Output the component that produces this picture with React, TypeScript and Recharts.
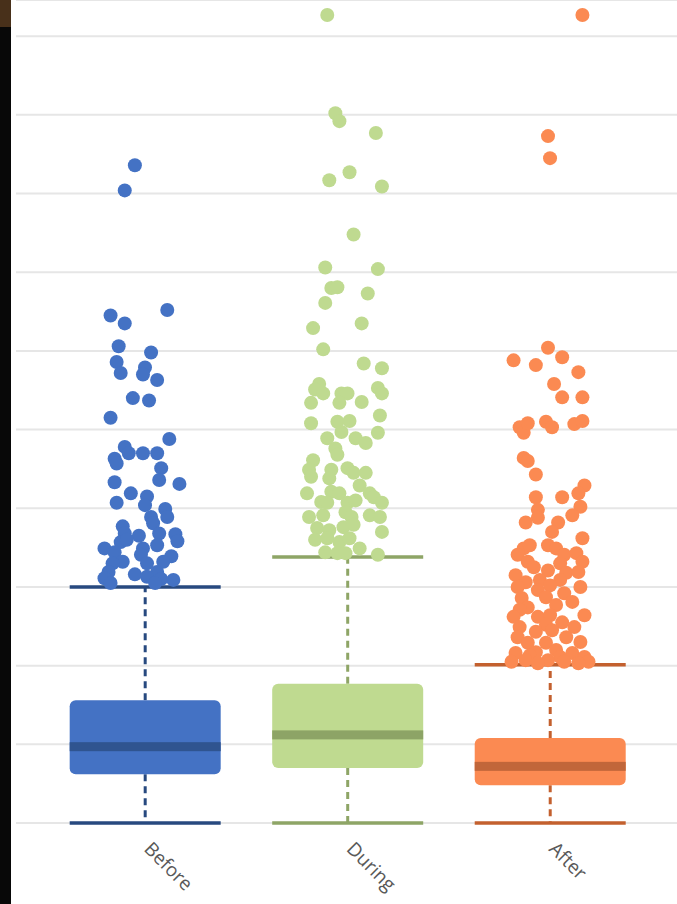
import React from 'react';
import { ComposedChart, Bar, Scatter, XAxis, YAxis, CartesianGrid } from 'recharts';

// box statistics, one entry per period
const periods = ['Before', 'During', 'After'];
const minimums = [0, 0, 0];
const lowerQuartiles = [0.62, 0.7, 0.48];
const medians = [0.97, 1.12, 0.72];
const upperQuartiles = [1.56, 1.77, 1.08];
const maximums = [3.0, 3.38, 2.01];
const yTicks = [0, 1, 2, 3, 4, 5, 6, 7, 8, 9, 10];

// outliers as [horizontal jitter, value]
const beforeOutliers: [number, number][] = [
    [-0.05, 8.36], [-0.1, 8.04], [0.11, 6.52], [-0.17, 6.45], [-0.1, 6.35], [-0.13, 6.06],
    [0.03, 5.98], [-0.14, 5.86], [0.0, 5.79], [-0.12, 5.72], [-0.01, 5.7], [0.06, 5.63],
    [-0.06, 5.4], [0.02, 5.37], [-0.17, 5.15], [0.12, 4.88], [-0.1, 4.78], [-0.15, 4.63],
    [-0.14, 4.57], [-0.08, 4.7], [-0.01, 4.7], [0.06, 4.7], [0.08, 4.51], [0.07, 4.36],
    [-0.15, 4.33], [0.17, 4.31], [-0.07, 4.19], [0.01, 4.15], [0.0, 4.04], [-0.14, 4.07],
    [0.1, 3.99], [0.03, 3.89], [0.11, 3.89], [0.04, 3.81], [-0.11, 3.77], [0.07, 3.68],
    [-0.1, 3.68], [0.15, 3.67], [-0.03, 3.65], [0.16, 3.58], [-0.12, 3.57], [-0.09, 3.6],
    [0.06, 3.53], [-0.2, 3.49], [-0.15, 3.44], [-0.01, 3.49], [-0.02, 3.41], [0.13, 3.39],
    [-0.11, 3.32], [-0.16, 3.3], [0.01, 3.3], [0.09, 3.32], [-0.18, 3.19], [-0.05, 3.16],
    [0.06, 3.19], [0.01, 3.13], [-0.2, 3.11], [0.14, 3.09], [0.08, 3.1], [-0.17, 3.05],
    [0.05, 3.05],
];

const duringOutliers: [number, number][] = [
    [-0.1, 10.27], [-0.06, 9.02], [-0.04, 8.92], [0.14, 8.77], [0.01, 8.27], [-0.09, 8.17],
    [0.17, 8.09], [0.03, 7.48], [-0.11, 7.06], [0.15, 7.04], [-0.08, 6.8], [-0.05, 6.81],
    [0.1, 6.73], [-0.11, 6.61], [-0.17, 6.29], [0.07, 6.35], [-0.12, 6.02], [0.08, 5.84],
    [0.17, 5.78], [-0.14, 5.58], [-0.16, 5.51], [-0.12, 5.46], [0.15, 5.53], [0.17, 5.46],
    [-0.03, 5.46], [0.0, 5.46], [-0.18, 5.34], [-0.04, 5.34], [0.07, 5.35], [0.16, 5.18],
    [-0.18, 5.08], [-0.05, 5.1], [0.01, 5.11], [-0.03, 4.97], [0.15, 4.96], [-0.1, 4.89],
    [0.04, 4.89], [0.09, 4.83], [-0.06, 4.76], [-0.05, 4.68], [-0.17, 4.61], [-0.19, 4.49],
    [-0.18, 4.4], [-0.08, 4.49], [-0.09, 4.38], [0.0, 4.51], [0.03, 4.45], [0.09, 4.45],
    [0.06, 4.29], [-0.2, 4.19], [-0.08, 4.21], [-0.04, 4.19], [0.11, 4.19], [-0.13, 4.08],
    [-0.1, 4.07], [0.0, 4.07], [0.04, 4.1], [0.13, 4.14], [0.17, 4.07], [-0.19, 3.89],
    [-0.12, 3.91], [-0.01, 3.95], [0.02, 3.89], [0.11, 3.91], [0.16, 3.89], [-0.15, 3.75],
    [-0.09, 3.72], [-0.02, 3.76], [0.03, 3.79], [0.17, 3.7], [-0.16, 3.6], [-0.1, 3.62],
    [-0.04, 3.57], [0.01, 3.62], [0.06, 3.49], [-0.11, 3.44], [-0.05, 3.43], [0.15, 3.41],
    [-0.01, 3.43],
];

const afterOutliers: [number, number][] = [
    [0.16, 10.27], [-0.01, 8.73], [0.0, 8.45], [-0.01, 6.04], [-0.18, 5.88], [0.06, 5.92],
    [-0.07, 5.82], [0.14, 5.73], [0.02, 5.58], [0.06, 5.41], [0.16, 5.41], [-0.15, 5.03],
    [-0.13, 4.96], [-0.11, 5.08], [-0.02, 5.1], [0.01, 5.03], [0.12, 5.07], [0.16, 5.11],
    [-0.13, 4.64], [-0.11, 4.6], [-0.07, 4.43], [0.17, 4.29], [0.14, 4.19], [-0.07, 4.14],
    [0.06, 4.14], [0.15, 4.02], [0.11, 3.91], [-0.06, 3.98], [-0.06, 3.88], [-0.12, 3.82],
    [0.04, 3.82], [0.01, 3.7], [0.16, 3.62], [-0.01, 3.53], [0.03, 3.49], [-0.13, 3.49],
    [-0.1, 3.53], [-0.16, 3.41], [0.07, 3.41], [0.13, 3.43], [-0.11, 3.32], [-0.08, 3.25],
    [0.05, 3.3], [0.16, 3.32], [-0.01, 3.21], [0.08, 3.18], [-0.17, 3.15], [-0.05, 3.09],
    [0.05, 3.09], [0.14, 3.19], [-0.12, 3.06], [-0.16, 3.0], [0.0, 3.02], [0.15, 3.0],
    [-0.06, 2.96], [0.07, 2.92], [-0.14, 2.86], [-0.02, 2.87], [0.11, 2.81], [0.03, 2.77],
    [-0.11, 2.74], [-0.15, 2.71], [-0.18, 2.62], [-0.06, 2.62], [0.17, 2.64], [0.0, 2.64],
    [0.06, 2.55], [-0.02, 2.52], [-0.15, 2.49], [0.12, 2.49], [-0.07, 2.43], [0.01, 2.45],
    [-0.16, 2.36], [0.08, 2.36], [-0.11, 2.29], [-0.02, 2.29], [0.15, 2.3], [-0.17, 2.16],
    [-0.07, 2.17], [0.03, 2.2], [0.11, 2.16], [0.17, 2.11], [-0.1, 2.13], [0.05, 2.11],
    [-0.12, 2.07], [-0.01, 2.07], [0.07, 2.05], [-0.19, 2.05], [0.19, 2.05], [-0.06, 2.03],
    [0.14, 2.03],
];

const outliers = [beforeOutliers, duringOutliers, afterOutliers];

const palette = [
    { fill: '#4472c4', median: '#2f5490', line: '#27497f' },
    { fill: '#bfda90', median: '#8da466', line: '#8ea566' },
    { fill: '#fb8a52', median: '#c1663a', line: '#c3602e' },
];

const BOX_WIDTH = 151;

const boxes = periods.map((name, i) => ({
    x: i + 1,
    name,
    range: [minimums[i], maximums[i]],
    q1: lowerQuartiles[i],
    median: medians[i],
    q3: upperQuartiles[i],
    color: palette[i],
}));

const BoxShape = (props: any) => {
    const { x, y, width, height, payload } = props;
    const [lo, hi] = payload.range;
    const top0 = Math.min(y, y + height);
    const h = Math.abs(height);
    const toY = (v: number) => top0 + (h * (hi - v)) / (hi - lo);
    const cx = x + width / 2;
    const left = cx - BOX_WIDTH / 2;
    const right = cx + BOX_WIDTH / 2;
    const c = payload.color;
    const q1 = toY(payload.q1);
    const q3 = toY(payload.q3);
    const med = toY(payload.median);
    const top = toY(hi);
    const bottom = toY(lo);
    return (
        <g>
            <line x1={cx} x2={cx} y1={q3} y2={top} stroke={c.line} strokeWidth={3} strokeDasharray="7 5" />
            <line x1={cx} x2={cx} y1={q1} y2={bottom} stroke={c.line} strokeWidth={3} strokeDasharray="7 5" />
            <line x1={left} x2={right} y1={top} y2={top} stroke={c.line} strokeWidth={3.5} />
            <line x1={left} x2={right} y1={bottom} y2={bottom} stroke={c.line} strokeWidth={3.5} />
            <rect x={left} y={q3} width={BOX_WIDTH} height={q1 - q3} rx={6} fill={c.fill} />
            <rect x={left} y={med - 4.5} width={BOX_WIDTH} height={9} fill={c.median} />
        </g>
    );
};

const PeriodTick = (props: any) => {
    const { x, y, payload } = props;
    const px = x - 2;
    const py = y + 19;
    return (
        <text
            x={px}
            y={py}
            transform={`rotate(45 ${px} ${py})`}
            textAnchor="start"
            fill="#595959"
            fontSize={19}
            fontFamily="'Open Sans', sans-serif"
        >
            {periods[payload.value - 1]}
        </text>
    );
};

const Dot = (color: string) => (props: any) => (
    <circle cx={props.cx} cy={props.cy} r={7} fill={color} />
);

export default function App() {
    return (
        <div style={{ position: 'absolute', left: 0, top: 0, width: 677, height: 904, background: '#fff', overflow: 'hidden' }}>
            <div style={{ position: 'absolute', left: 0, top: 0, width: 11, height: 904, background: '#080808' }} />
            <div style={{ position: 'absolute', left: 0, top: 0, width: 11, height: 27, background: '#48301a' }} />
            <ComposedChart
                width={677}
                height={904}
                data={boxes}
                margin={{ top: 0, right: 0, bottom: 0, left: 16 }}
                style={{ position: 'absolute', left: 0, top: 0 }}
            >
                <CartesianGrid vertical={false} stroke="#e6e6e6" strokeWidth={2} />
                <XAxis
                    type="number"
                    dataKey="x"
                    domain={[0.363, 3.627]}
                    ticks={[1, 2, 3]}
                    axisLine={false}
                    tickLine={false}
                    height={81}
                    tick={<PeriodTick />}
                />
                <YAxis type="number" domain={[0, 10.46]} ticks={yTicks} hide />
                <Bar dataKey="range" shape={<BoxShape />} isAnimationActive={false} />
                {outliers.map((pts, i) => (
                    <Scatter
                        key={periods[i]}
                        data={pts.map(([j, v]) => ({ x: i + 1 + j, y: v }))}
                        dataKey="y"
                        shape={Dot(palette[i].fill)}
                        isAnimationActive={false}
                    />
                ))}
            </ComposedChart>
        </div>
    );
}
